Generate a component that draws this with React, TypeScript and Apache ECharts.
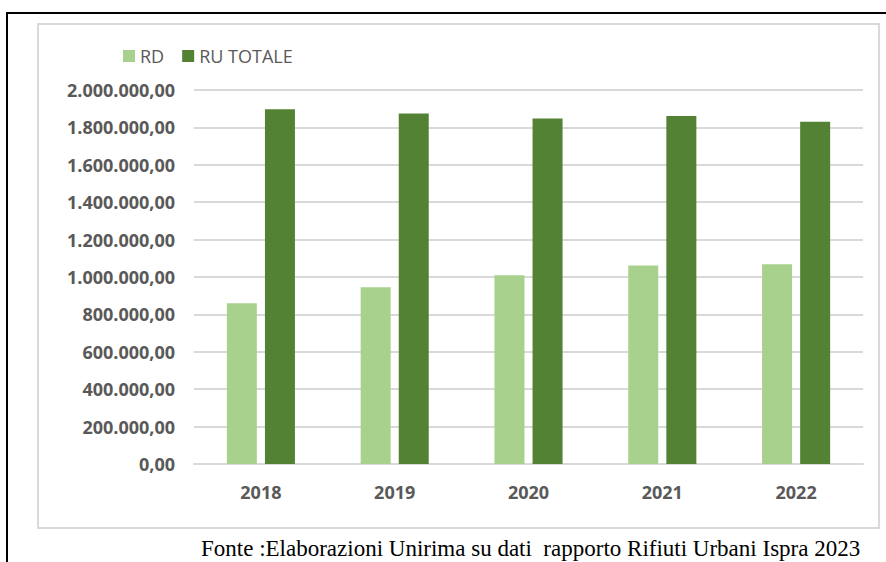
import React, { useEffect, useRef } from "react";
import * as echarts from "echarts";

const categories = ["2018", "2019", "2020", "2021", "2022"];
const rdValues = [859000, 945000, 1009000, 1062000, 1068000];
const ruTotaleValues = [1897000, 1875000, 1848000, 1861000, 1830000];
const seriesNames = ["RD", "RU TOTALE"];
const caption = "Fonte :Elaborazioni Unirima su dati  rapporto Rifiuti Urbani Ispra 2023";

function formatIt(v: number): string {
  const fixed = Math.round(v).toString();
  const withDots = fixed.replace(/\B(?=(\d{3})+(?!\d))/g, ".");
  return withDots + ",00";
}

export default function App() {
  const ref = useRef<HTMLDivElement>(null);
  useEffect(() => {
    if (!ref.current) return;
    const chart = echarts.init(ref.current, null, { renderer: "svg" });
    const font = "'Open Sans', 'Noto Sans', sans-serif";
    chart.setOption({
      animation: false,
      backgroundColor: "#ffffff",
      textStyle: { fontFamily: font },
      graphic: [
        {
          type: "rect",
          shape: { x: 7, y: 13, width: 920, height: 600 },
          style: { fill: "none", stroke: "#000000", lineWidth: 2 },
          silent: true,
        },
        {
          type: "rect",
          shape: { x: 38, y: 24, width: 841, height: 504 },
          style: { fill: "none", stroke: "#d9d9d9", lineWidth: 2 },
          silent: true,
        },
        {
          type: "text",
          left: 201,
          top: 537,
          style: {
            text: caption,
            fill: "#000000",
            font: "23px 'Liberation Serif', 'DejaVu Serif', serif",
          },
          silent: true,
        },
      ],
      legend: {
        left: 123,
        top: 47,
        padding: 0,
        itemWidth: 12,
        itemHeight: 12,
        itemGap: 18,
        icon: "rect",
        textStyle: { color: "#595959", fontSize: 18, fontFamily: font },
        data: seriesNames,
      },
      grid: { left: 194, right: 23, top: 90, bottom: 98, containLabel: false },
      xAxis: {
        type: "category",
        data: categories,
        axisLine: { show: true, lineStyle: { color: "#d9d9d9", width: 2 } },
        axisTick: { show: false },
        axisLabel: {
          color: "#595959",
          fontSize: 18,
          fontWeight: "bold",
          fontFamily: font,
          margin: 19,
        },
      },
      yAxis: {
        type: "value",
        min: 0,
        max: 2000000,
        interval: 200000,
        axisLine: { show: false },
        axisTick: { show: false },
        splitLine: { lineStyle: { color: "#d9d9d9", width: 2 } },
        axisLabel: {
          color: "#595959",
          fontSize: 18,
          fontWeight: "bold",
          fontFamily: font,
          margin: 19,
          formatter: (v: number) => formatIt(v),
        },
      },
      series: [
        {
          name: seriesNames[0],
          type: "bar",
          data: rdValues,
          barWidth: 30,
          barGap: "27%",
          itemStyle: { color: "#a9d18e" },
        },
        {
          name: seriesNames[1],
          type: "bar",
          data: ruTotaleValues,
          barWidth: 30,
          barGap: "27%",
          itemStyle: { color: "#548235" },
        },
      ],
    });
    return () => chart.dispose();
  }, []);
  return (
    <div
      ref={ref}
      style={{ position: "absolute", left: 0, top: 0, width: 886, height: 562 }}
    />
  );
}
